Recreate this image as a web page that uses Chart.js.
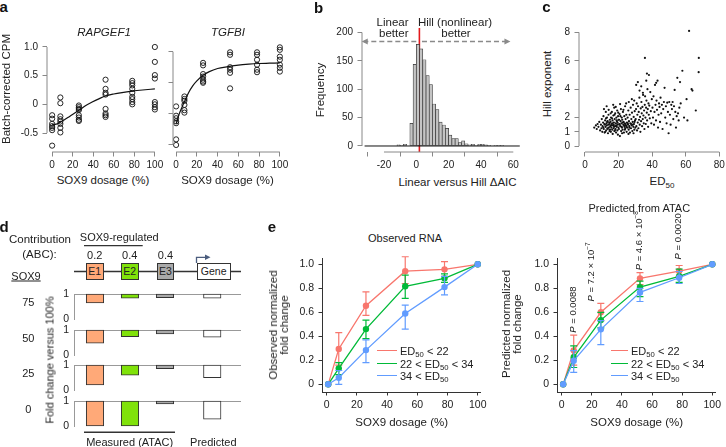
<!DOCTYPE html>
<html>
<head>
<meta charset="utf-8">
<script src="https://cdn.jsdelivr.net/npm/chart.js@4"></script>
<style>
  html, body { margin: 0; padding: 0; background: #fff; overflow: hidden; }
  #fig { position: relative; width: 726px; height: 447px; overflow: hidden;
         font-family: 'Liberation Sans', Arial, sans-serif; color: #222; }
  #fig canvas { position: absolute; }
  .t { position: absolute; transform: translate(-50%, -50%); white-space: nowrap; line-height: 1; font-size: 11.5px; color: #222; }
  .t.rot { transform: translate(-50%, -50%) rotate(-90deg); text-align: center; }
  .t.right { transform: translate(-100%, -50%); }
  .t.left { transform: translate(0, -50%); }
  .t.pl { font-weight: bold; font-size: 15px; color: #111; }
  sub { font-size: 70%; vertical-align: -0.3em; line-height: 0; }
  .box { position: absolute; box-sizing: border-box; border: 1px solid #333; height: 17px;
         display: flex; align-items: center; justify-content: center; font-size: 10.5px; }
  .key { position: absolute; height: 0; border-top: 1.5px solid; }
</style>
</head>
<body>
<div id="fig">
  <svg width="726" height="447" style="position:absolute;left:0;top:0">
    <line x1="84" y1="245.7" x2="142.7" y2="245.7" stroke="#333" stroke-width="1.3"/>
    <line x1="74" y1="271.5" x2="241" y2="271.5" stroke="#333" stroke-width="1.3"/>
    <path d="M196.5 263 V257.3 H206" stroke="#4b5d7e" stroke-width="1.3" fill="none"/>
    <path d="M205 254.6 L210.5 257.3 L205 260 Z" fill="#4b5d7e"/>
    <line x1="84" y1="432.3" x2="175" y2="432.3" stroke="#333" stroke-width="1.6"/>
  </svg>
</div>
<script>
// ---------- data ----------
// a: SOX9 dosage vs batch-corrected CPM
const doseTicks = [0, 20, 40, 60, 80, 100];
const rapgef1Pts = [
  [0, -0.19], [0, -0.25], [0, -0.34], [0, -0.38], [0, -0.41], [0, -0.45], [0, -0.72],
  [8, 0.12], [8, 0.02], [8, -0.21], [8, -0.26], [8, -0.30], [8, -0.34], [8, -0.41], [8, -0.49],
  [26, -0.02], [26, -0.05], [26, -0.08], [26, -0.10], [26, -0.19], [26, -0.23], [26, -0.27], [26, -0.29],
  [52, 0.43], [52, 0.27], [52, 0.20], [52, 0.17], [52, -0.08], [52, -0.16], [52, -0.19], [52, -0.22],
  [78, 0.41], [78, 0.37], [78, 0.33], [78, 0.27], [78, 0.20], [78, 0.13], [78, 0.09], [78, 0.04], [78, 0.0],
  [100, 1.0], [100, 0.74], [100, 0.51], [100, 0.45], [100, 0.04], [100, 0.0], [100, -0.05], [100, -0.09]
];
const rapgef1Fit = [
  [0, -0.355], [4, -0.345], [8, -0.31], [12, -0.27], [17, -0.21], [22, -0.15], [26, -0.105], [32, -0.03],
  [39, 0.04], [46, 0.10], [52, 0.145], [60, 0.18], [68, 0.205], [78, 0.23], [88, 0.25], [100, 0.27]
];
const rapTicks = [-0.5, 0, 0.5, 1.0];
const rapTickLabels = ['-0.5', '0', '0.5', '1.0'];
const tgfbiPts = [
  [0, 0.12], [0, -0.03], [0, -0.07], [0, -0.12], [0, -0.15], [0, -0.41], [0, -0.5],
  [8, 0.28], [8, 0.24], [8, 0.21], [8, 0.145], [8, 0.06], [8, 0.02],
  [26, 0.82], [26, 0.78], [26, 0.64], [26, 0.60], [26, 0.55], [26, 0.52], [26, 0.50],
  [52, 0.99], [52, 0.95], [52, 0.75], [52, 0.71], [52, 0.66], [52, 0.41],
  [78, 0.99], [78, 0.95], [78, 0.87], [78, 0.79], [78, 0.71], [78, 0.67],
  [100, 1.07], [100, 1.03], [100, 0.92], [100, 0.87], [100, 0.79], [100, 0.74], [100, 0.68]
];
const tgfbiFit = [
  [0, -0.16], [3, 0.0], [6, 0.12], [9, 0.23], [12, 0.34], [16, 0.45], [20, 0.53], [26, 0.62], [32, 0.68],
  [40, 0.73], [50, 0.76], [60, 0.785], [70, 0.80], [80, 0.81], [90, 0.815], [100, 0.82]
];
const tgfbiTicks = [-0.5, 0, 0.5, 1.0];

// b: histogram of linear vs Hill delta AIC (bins of width 2 from -32)
const aicBinStart = -32;
const aicBinWidth = 2;
const aicCounts = [
  0, 0, 0, 0, 0, 0, 0, 0, 0, 0, 2, 1, 3, 0, 40, 144, 179, 171, 152, 124, 108, 74, 64, 42,
  37, 31, 19, 13, 13, 6, 9, 4, 2, 3, 1, 3, 3, 2, 1, 0, 1, 1, 1, 0, 0, 0, 0, 0
];
const aicCutoff = 1.9;
const aicArrowY = 184;
const aicTicksX = [-20, 0, 20, 40, 60];
const aicTicksY = [0, 50, 100, 150, 200];

// c: ED50 vs Hill exponent
const hillPts = [
  [5.5,1.3],[6.5,1.45],[7,1.2],[7.5,1.55],[8,1.35],[8.5,1.7],[9,1.1],[9.5,1.5],[9.8,1.25],[10,1.9],
  [10.3,1.0],[10.5,1.4],[10.8,1.65],[11,2.1],[11.2,1.2],[11.5,1.55],[11.7,0.95],[12,1.8],[12.2,1.35],[12.4,2.4],
  [12.6,1.1],[12.8,1.6],[13,1.45],[13.1,2.0],[13.3,1.25],[13.5,1.75],[13.7,0.9],[13.9,1.5],[14,2.2],[14.2,1.3],
  [14.4,1.65],[14.6,1.05],[14.8,1.85],[15,1.4],[11.3,2.6],[12.9,2.8],[14.1,2.55],[10.9,1.3],[12.1,1.0],[13.6,1.2],
  [14.7,1.55],[11.9,1.5],[13.2,1.7],[14.9,1.15],[12.5,1.95],
  [15.2,1.7],[15.4,1.0],[15.5,2.0],[15.7,1.3],[15.9,1.55],[16,2.4],[16.2,1.15],[16.4,1.8],[16.5,0.85],[16.7,1.45],
  [16.9,2.15],[17,1.25],[17.2,1.65],[17.4,2.7],[17.5,1.05],[17.7,1.9],[17.9,1.4],[18,2.3],[18.2,1.2],[18.4,1.6],
  [18.5,0.95],[18.7,2.0],[18.9,1.35],[19,1.75],[19.2,2.5],[19.3,1.1],[19.5,1.5],[19.7,2.1],[19.9,1.3],[20,1.85],
  [15.6,1.45],[16.3,1.6],[17.1,1.5],[17.8,1.1],[18.6,1.45],[19.4,1.65],[15.3,2.3],[16.8,2.9],[18.3,2.75],[19.8,2.35],
  [16.1,1.95],[17.6,2.2],[18.8,1.8],[19.6,0.8],[17.3,1.35],
  [20.2,1.2],[20.4,1.55],[20.6,2.25],[20.8,0.7],[21,1.4],[21.2,1.75],[21.4,2.6],[21.5,1.05],[21.7,1.6],[21.9,2.0],
  [22,1.3],[22.2,1.85],[22.4,1.15],[22.6,2.4],[22.8,1.5],[23,1.7],[23.2,0.95],[23.4,2.1],[23.5,1.35],[23.7,1.6],
  [23.9,2.8],[24,1.25],[24.2,1.9],[24.4,1.45],[24.6,2.2],[24.8,1.0],[25,1.65],[20.3,1.85],[21.1,2.1],[21.8,1.35],
  [22.5,1.65],[23.3,1.45],[24.1,1.55],[24.7,1.35],[20.9,2.95],[22.9,2.55],[24.5,3.0],[23.8,1.15],[22.1,0.9],[20.7,1.5],
  [25.2,1.3],[25.4,2.0],[25.6,1.5],[25.8,2.5],[26,1.15],[26.2,1.75],[26.4,1.4],[26.6,2.2],[26.8,0.95],[27,1.6],
  [27.2,2.7],[27.4,1.25],[27.6,1.9],[27.8,1.45],[28,2.35],[28.2,1.05],[28.4,1.7],[28.6,2.9],[28.8,1.35],[29,2.05],
  [29.2,1.55],[29.4,1.15],[29.6,2.45],[29.8,1.8],[30,1.3],[25.5,1.6],[26.5,1.3],[27.5,1.55],[28.5,1.5],[29.5,1.7],
  [26.1,3.1],[27.9,3.3],[29.3,3.2],[25.9,0.85],[28.9,0.9],
  [30.2,1.9],[30.4,2.6],[30.6,1.4],[30.8,3.0],[31,1.1],[31.2,2.2],[31.4,1.65],[31.6,2.8],[31.8,1.25],[32,2.4],
  [32.2,1.85],[32.4,3.4],[32.6,1.5],[32.8,2.05],[33,1.0],[33.2,2.65],[33.4,1.75],[33.6,3.1],[33.8,2.3],[34,1.4],
  [34.2,2.75],[34.4,1.9],[34.6,3.6],[34.8,2.15],[35,1.6],[30.5,4.3],[31.5,4.5],[32.5,3.9],[33.5,4.2],[34.5,3.75],
  [35.2,2.5],[35.4,1.2],[35.6,2.9],[35.8,3.5],[36,2.0],[36.2,1.55],[36.4,2.7],[36.6,3.2],[36.8,2.35],[37,1.8],
  [37.2,4.0],[37.4,2.6],[37.6,1.35],[37.8,3.0],[38,2.2],[38.3,2.85],[38.6,1.95],[38.9,3.8],[39.2,2.45],[39.5,1.6],
  [39.8,3.3],[36.5,4.6],[38.1,5.0],[35.7,6.2],[36.9,5.1],
  [40.2,2.7],[40.5,2.0],[40.8,3.5],[41.1,1.5],[41.4,2.4],[41.7,4.3],[42,2.9],[42.3,1.8],[42.6,3.2],[42.9,2.55],
  [43.2,4.6],[43.5,1.3],[43.8,2.2],[44.1,3.0],[44.4,2.75],[44.7,1.7],[45,3.4],[45.4,2.3],[45.8,2.9],[46.2,1.2],
  [46.6,2.6],[47,3.1],[47.4,4.1],[47.8,2.0],[48.2,2.8],[48.6,1.6],[49,3.05],[49.4,2.4],[49.8,0.9],[42.4,4.45],
  [50.2,3.1],[50.6,2.2],[51,1.5],[51.4,2.9],[51.8,2.6],[52.2,3.1],[52.6,1.9],[53,2.8],[53.4,3.95],[53.8,2.4],
  [54.2,1.3],[54.6,2.1],[55,4.8],[55.4,2.3],[55.8,1.8],[56.2,2.7],[56.6,4.5],[57,3.0],[58,5.3],[59,2.0],
  [61,1.8],[62,8.1],[63.5,4.0],[64,3.9],[66,2.5],[67.8,6.2],[67.7,5.2],[60.5,3.3]
];
const ed50Ticks = [0, 20, 40, 60, 80];
const hillTicks = [0, 1, 2, 4, 6, 8];

// d: ABC model, fold change versus 100% SOX9
const elements = ['E1', 'E2', 'E3', 'Gene'];
const contribution = ['0.2', '0.4', '0.4'];
const sox9Levels = ['75', '50', '25', '0'];
const foldChange = [
  [0.64, 0.83, 0.85, 0.83],
  [0.47, 0.73, 0.84, 0.71],
  [0.20, 0.59, 0.85, 0.49],
  [0.00, 0.00, 0.88, 0.27]
];

// e: normalized fold change by ED50 group
const eDose = [1, 8, 26, 52, 78, 100];
const groupLabels = ['ED<sub>50</sub> &lt; 22', '22 &lt; ED<sub>50</sub> &lt; 34', '34 &lt; ED<sub>50</sub>'];
const obsLow = [0, 0.295, 0.655, 0.943, 0.958, 1];
const obsLowErr = [[0, 0], [0.16, 0.43], [0.575, 0.77], [0.84, 1.063], [0.90, 1.022], [1, 1]];
const obsMid = [0, 0.133, 0.46, 0.817, 0.883, 1];
const obsMidErr = [[0, 0], [0.08, 0.18], [0.38, 0.535], [0.716, 0.91], [0.85, 0.92], [1, 1]];
const obsHigh = [0, 0.055, 0.285, 0.59, 0.81, 1];
const obsHighErr = [[0, 0], [0.0, 0.115], [0.18, 0.37], [0.46, 0.66], [0.745, 0.9], [1, 1]];
const predLow = [0, 0.283, 0.6, 0.883, 0.944, 1];
const predLowErr = [[0, 0], [0.16, 0.41], [0.53, 0.675], [0.83, 0.93], [0.9, 0.99], [1, 1]];
const predMid = [0, 0.225, 0.535, 0.81, 0.9, 1];
const predMidErr = [[0, 0], [0.14, 0.32], [0.47, 0.6], [0.73, 0.86], [0.85, 0.96], [1, 1]];
const predHigh = [0, 0.197, 0.458, 0.766, 0.888, 1];
const predHighErr = [[0, 0], [0.1, 0.28], [0.33, 0.53], [0.69, 0.8], [0.84, 0.94], [1, 1]];
const eTicksY = [0, 0.2, 0.4, 0.6, 0.8, 1.0];
const eTickLabelsY = ['0', '0.2', '0.4', '0.6', '0.8', '1.0'];
const pDose = [8, 20, 51.5, 77.5];
const pBase = [0.43, 0.69, 0.95, 1.04];
const pValue = ['0.0088', '7.2 × 10', '4.6 × 10', '0.0020'];
const pExp = ['', '−7', '−8', ''];

// ---------- setup ----------
const FAM = "'Liberation Sans', Arial, sans-serif";
Chart.defaults.font.family = FAM;
Chart.defaults.font.size = 10;
Chart.defaults.color = '#222';
Chart.defaults.animation = false;
Chart.defaults.responsive = false;
Chart.defaults.plugins.legend.display = false;
Chart.defaults.plugins.tooltip.enabled = false;

const fig = document.getElementById('fig');
const toXY = pts => pts.map(p => ({ x: p[0], y: p[1] }));

// R-style axis line from first to last tick
Chart.register({
  id: 'raxis',
  afterDraw(chart, args, o) {
    if (!o.on) return;
    const { ctx, chartArea: a, scales: { x, y } } = chart;
    const xs = x.ticks.map(t => x.getPixelForValue(t.value));
    const ys = y.ticks.map(t => y.getPixelForValue(t.value));
    ctx.save();
    ctx.strokeStyle = '#888';
    ctx.lineWidth = 1;
    ctx.beginPath();
    ctx.moveTo(Math.min(...xs), a.bottom); ctx.lineTo(Math.max(...xs), a.bottom);
    ctx.moveTo(a.left, Math.min(...ys)); ctx.lineTo(a.left, Math.max(...ys));
    ctx.stroke();
    ctx.restore();
  }
});

// error bars for panel e
Chart.register({
  id: 'errbars',
  afterDatasetDraw(chart, args) {
    const ds = chart.data.datasets[args.index];
    if (!ds.err) return;
    const { ctx, scales: { x, y } } = chart;
    ctx.save();
    ctx.strokeStyle = ds.borderColor;
    ctx.lineWidth = 1.2;
    ds.err.forEach(([lo, hi], i) => {
      if (hi - lo <= 0) return;
      const px = x.getPixelForValue(ds.data[i].x);
      const y1 = y.getPixelForValue(lo), y2 = y.getPixelForValue(hi);
      ctx.beginPath();
      ctx.moveTo(px, y1); ctx.lineTo(px, y2);
      ctx.moveTo(px - 3.5, y1); ctx.lineTo(px + 3.5, y1);
      ctx.moveTo(px - 3.5, y2); ctx.lineTo(px + 3.5, y2);
      ctx.stroke();
    });
    ctx.restore();
  }
});

// rotated P-value labels
Chart.register({
  id: 'pvals',
  afterDraw(chart, args, o) {
    if (!o.on) return;
    const { ctx, scales: { x, y } } = chart;
    pDose.forEach((d, i) => {
      ctx.save();
      ctx.translate(x.getPixelForValue(d), y.getPixelForValue(pBase[i]));
      ctx.rotate(-Math.PI / 2);
      ctx.fillStyle = '#222';
      ctx.textBaseline = 'middle';
      const parts = [['P', 'italic 9.5px ' + FAM, 0], [' = ' + pValue[i], '9.5px ' + FAM, 0]];
      if (pExp[i]) parts.push([pExp[i], '6.5px ' + FAM, -3.5]);
      let cx = 0;
      parts.forEach(([s, f, dy]) => {
        ctx.font = f;
        ctx.fillText(s, cx, dy);
        cx += ctx.measureText(s).width;
      });
      ctx.restore();
    });
  }
});

// canvas whose chart area lands on area = [l, t, r, b]; m = [left, top, right, bottom] margins
function makeCanvas(area, m) {
  const c = document.createElement('canvas');
  const w = Math.round(area[2] - area[0] + m[0] + m[2]);
  const h = Math.round(area[3] - area[1] + m[1] + m[3]);
  c.width = w; c.height = h;
  c.style.left = (area[0] - m[0]) + 'px';
  c.style.top = (area[1] - m[1]) + 'px';
  c.style.width = w + 'px';
  c.style.height = h + 'px';
  fig.appendChild(c);
  return c;
}

function scale(kind, min, max, ticks, labels, size, gg) {
  return {
    type: 'linear', min, max, offset: false,
    afterBuildTicks: s => { s.ticks = ticks.map(v => ({ value: v })); },
    afterFit: s => { if (kind === 'x') s.height = size; else s.width = size; },
    grid: { drawOnChartArea: false, tickLength: gg ? 3.5 : 4.5, color: gg ? '#333' : '#888' },
    border: { display: !!gg, color: '#333' },
    ticks: {
      display: !!labels, autoSkip: false, maxRotation: 0,
      padding: kind === 'x' ? (gg ? 3 : 2.5) : 4.5,
      font: { size: gg ? 10.5 : 10 },
      callback: (v, i) => labels ? labels[i] : ''
    }
  };
}

function opts(m, scales, plugins, padBottom) {
  return { layout: { padding: { left: 0, top: m[1], right: m[2], bottom: padBottom || 0 } }, scales, plugins: plugins || {} };
}

function txt(html, x, y, cls, css) {
  const d = document.createElement('div');
  d.className = 't ' + (cls || '');
  d.innerHTML = html;
  d.style.left = x + 'px';
  d.style.top = y + 'px';
  if (css) d.style.cssText += css;
  fig.appendChild(d);
  return d;
}

// ---------- a ----------
function doseScatter(area, m, pts, fit, ymin, ymax, yTicks, yLabels) {
  new Chart(makeCanvas(area, m), {
    type: 'scatter',
    data: { datasets: [
      { data: toXY(pts), pointRadius: 2.6, borderWidth: 0.9, pointBorderWidth: 0.9,
        borderColor: '#111', backgroundColor: 'rgba(0,0,0,0)', clip: false },
      { data: toXY(fit), showLine: true, pointRadius: 0, borderColor: '#111', borderWidth: 1.2,
        cubicInterpolationMode: 'monotone', clip: false }
    ] },
    options: opts(m, {
      x: scale('x', area[4], area[5], doseTicks, doseTicks.map(String), m[3]),
      y: scale('y', ymin, ymax, yTicks, yLabels, m[0])
    }, { raxis: { on: true } })
  });
}
doseScatter([47, 40, 160, 152, -5, 105], [40, 12, 8, 20], rapgef1Pts, rapgef1Fit, -0.831, 1.122, rapTicks, rapTickLabels);
doseScatter([173, 40, 284, 152, -3, 104], [8, 12, 10, 20], tgfbiPts, tgfbiFit, -0.613, 1.188, tgfbiTicks, null);

txt('a', 3.7, 6.2, 'pl');
txt('<i>RAPGEF1</i>', 104, 33.3);
txt('<i>TGFBI</i>', 228, 33.3);
txt('Batch-corrected CPM', 6.7, 89.2, 'rot');
txt('SOX9 dosage (%)', 103, 181);
txt('SOX9 dosage (%)', 227.5, 181);

// ---------- b ----------
const aicBars = aicCounts.map((c, i) => ({ x: aicBinStart + aicBinWidth * (i + 0.5), y: c }));
const aicEnd = aicBinStart + aicBinWidth * aicCounts.length;
const mB = [26, 12, 8, 20];
new Chart(makeCanvas([362, 20, 523, 152], mB), {
  type: 'bar',
  data: { datasets: [
    { type: 'line', data: [{ x: aicBinStart, y: 0 }, { x: aicEnd, y: 0 }], borderColor: '#111', borderWidth: 1,
      pointRadius: 0, clip: false },
    { data: aicBars, backgroundColor: '#c4c4c4', borderColor: '#333', borderWidth: 0.7, borderSkipped: false,
      barPercentage: 1, categoryPercentage: 1, clip: false },
    { type: 'line', data: [{ x: aicCutoff, y: -10.6 }, { x: aicCutoff, y: 208 }], borderColor: '#e3191c',
      borderWidth: 1.6, pointRadius: 0, clip: false },
    { type: 'line', data: [{ x: 0, y: aicArrowY }, { x: -32.5, y: aicArrowY }], borderColor: '#8a8a8a',
      borderWidth: 1.5, borderDash: [5, 3], pointRadius: 0, clip: false },
    { type: 'line', data: [{ x: 3.5, y: aicArrowY }, { x: 57, y: aicArrowY }], borderColor: '#8a8a8a',
      borderWidth: 1.5, borderDash: [5, 3], pointRadius: 0, clip: false }
  ] },
  options: opts(mB, {
    x: scale('x', -33.6, 66, aicTicksX, aicTicksX.map(String), mB[3]),
    y: scale('y', -10.6, 222, aicTicksY, aicTicksY.map(String), mB[0])
  }, { raxis: { on: true } }),
  plugins: [{
    id: 'arrowheads',
    afterDatasetsDraw(chart) {
      const { ctx, scales: { x, y } } = chart;
      const py = y.getPixelForValue(aicArrowY);
      ctx.save();
      ctx.fillStyle = '#8a8a8a';
      [[-32.5, -1], [57, 1]].forEach(([v, dir]) => {
        const px = x.getPixelForValue(v);
        ctx.beginPath();
        ctx.moveTo(px + dir * 2, py);
        ctx.lineTo(px - dir * 4, py - 3);
        ctx.lineTo(px - dir * 4, py + 3);
        ctx.closePath();
        ctx.fill();
      });
      ctx.restore();
    }
  }]
});

txt('b', 318.5, 6.7, 'pl');
txt('Linear', 408.5, 22.5, 'right');
txt('better', 408.5, 34.2, 'right');
txt('Hill (nonlinear)', 455, 22.5);
txt('better', 456, 34.2);
txt('Frequency', 321, 90, 'rot');
txt('Linear versus Hill ΔAIC', 457.5, 182.7);

// ---------- c ----------
const mC = [16, 12, 8, 20];
new Chart(makeCanvas([579, 20, 724, 152], mC), {
  type: 'scatter',
  data: { datasets: [
    { data: toXY(hillPts), pointRadius: 1.1, borderWidth: 0, backgroundColor: '#111', clip: false }
  ] },
  options: opts(mC, {
    x: scale('x', -3.57, 82.8, ed50Ticks, ed50Ticks.map(String), mC[3]),
    y: scale('y', -0.42, 8.87, hillTicks, hillTicks.map(String), mC[0])
  }, { raxis: { on: true } })
});

txt('c', 546.5, 5.7, 'pl');
txt('Hill exponent', 548.3, 84.3, 'rot');
txt('ED<sub>50</sub>', 662, 182);

// ---------- d ----------
txt('d', 4, 225.5, 'pl');
txt('Contribution', 40, 240);
txt('(ABC):', 39.5, 255);
txt('SOX9-regulated', 119.3, 237.3, '', 'font-size:11px');
const boxLeft = [86, 121, 156.7, 196.7];
const boxWidth = [17.5, 17.5, 17.5, 34];
const elementColors = ['#ffa978', '#80e20a', '#aaaaaa', '#ffffff'];
elements.forEach((e, i) => {
  const b = document.createElement('div');
  b.className = 'box';
  b.textContent = e;
  b.style.cssText += `left:${boxLeft[i]}px;top:262.8px;width:${boxWidth[i]}px;background:${elementColors[i]}`;
  fig.appendChild(b);
  if (i < contribution.length) txt(contribution[i], boxLeft[i] + boxWidth[i] / 2, 254.5, '', 'font-size:11px');
});
txt('SOX9', 26, 276, '', 'font-size:11px;text-decoration:underline');

const rowTops = [294.3, 330, 365.3, 401];
const elementSlot = [1, 2, 3, 4.35];
sox9Levels.forEach((lvl, r) => {
  const m = [22, 12, 3, 12];
  new Chart(makeCanvas([74, rowTops[r], 240, rowTops[r] + 24.5], m), {
    type: 'bar',
    data: { datasets: [{
      data: foldChange[r].map((v, i) => ({ x: elementSlot[i], y: [v, 1] })),
      backgroundColor: elementColors, borderColor: '#333', borderWidth: 1, borderSkipped: false,
      barThickness: 17.5, clip: false
    }] },
    options: opts(m, {
      x: { type: 'linear', position: 'top', min: 0.4, max: 5.143, offset: false,
           afterFit: s => { s.height = 0; }, ticks: { display: false },
           grid: { display: false, drawTicks: false }, border: { color: '#999' } },
      y: { type: 'linear', min: 0, max: 1, afterBuildTicks: s => { s.ticks = [{ value: 0 }, { value: 1 }]; },
           afterFit: s => { s.width = m[0]; }, grid: { display: false, drawTicks: false },
           border: { color: '#999' }, ticks: { padding: 5, font: { size: 10.5 }, callback: v => String(v) } }
    }, {}, m[3])
  });
  txt(lvl, 28.3, rowTops[r] + 8, '', 'font-size:11px');
});
txt('Fold change versus 100%', 50, 360, 'rot', 'font-size:11px');
txt('Measured (ATAC)', 129.7, 441.7, '', 'font-size:11px');
txt('Predicted', 213.3, 441.7, '', 'font-size:11px');

// ---------- e ----------
const groupColors = ['#F8766D', '#00BA38', '#619CFF'];
function ePanel(area, m, series, errs, withP) {
  new Chart(makeCanvas(area, m), {
    type: 'scatter',
    data: { datasets: series.map((s, g) => ({
      data: s.map((v, i) => ({ x: eDose[i], y: v })), err: errs[g], order: 3 - g,
      showLine: true, borderColor: groupColors[g], backgroundColor: groupColors[g], borderWidth: 1.3,
      pointRadius: 3.2, pointBorderWidth: 0, clip: false
    })) },
    options: opts(m, {
      x: scale('x', area[4], area[5], doseTicks, doseTicks.map(String), m[3], true),
      y: scale('y', -0.064, 1.0525, eTicksY, eTickLabelsY, m[0], true)
    }, { pvals: { on: withP } })
  });
}
ePanel([322, 258, 480, 392, -3.1, 101.5], [30, 12, 10, 20],
  [obsLow, obsMid, obsHigh], [obsLowErr, obsMidErr, obsHighErr], false);
ePanel([557, 258, 715, 392, -3.1, 101.8], [30, 60, 10, 20],
  [predLow, predMid, predHigh], [predLowErr, predMidErr, predHighErr], true);

function eLegend(x0, len, tx) {
  groupLabels.forEach((g, i) => {
    const y = 351 + i * 12.5;
    const k = document.createElement('div');
    k.className = 'key';
    k.style.cssText += `left:${x0}px;top:${y - 0.75}px;width:${len}px;border-color:${groupColors[i]}`;
    fig.appendChild(k);
    txt(g, tx, y, 'left', 'font-size:11px');
  });
}
eLegend(376.7, 20, 400);
eLegend(610.7, 17.6, 631);

txt('e', 272, 225.7, 'pl');
txt('Observed RNA', 405, 237.7, '', 'font-size:11px');
txt('Predicted from ATAC', 639.3, 208.3, '', 'font-size:11px');
txt('Observed normalized<br>fold change', 279, 325, 'rot', 'line-height:11px');
txt('Predicted normalized<br>fold change', 511.5, 324, 'rot', 'line-height:11px');
txt('SOX9 dosage (%)', 401.7, 423.3);
txt('SOX9 dosage (%)', 636.7, 423.3);
</script>
</body>
</html>
